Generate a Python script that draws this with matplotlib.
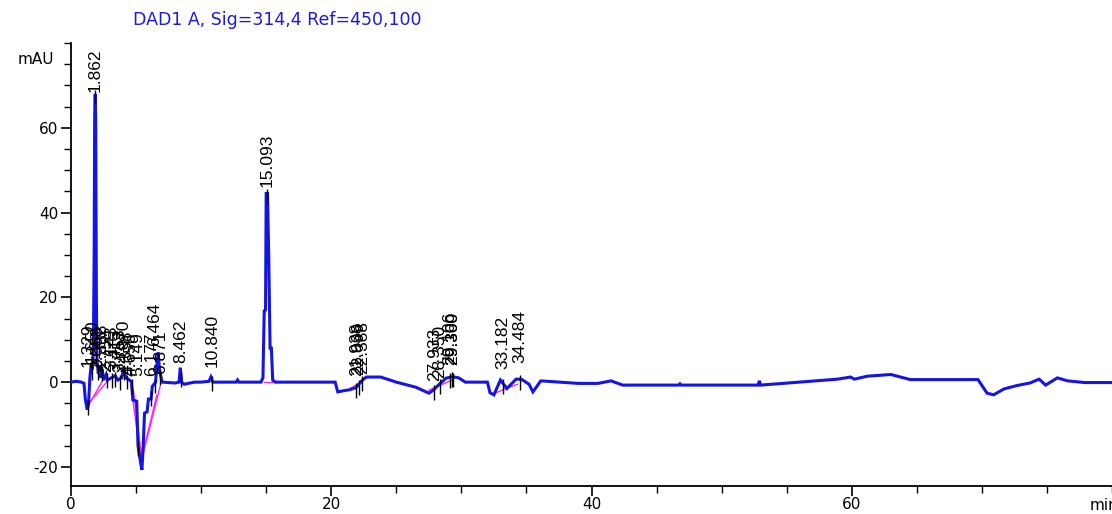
import numpy as np
import matplotlib
matplotlib.use("Agg")
import matplotlib.pyplot as plt
from matplotlib.ticker import MultipleLocator

plt.rcParams["axes.unicode_minus"] = False

# ---- data ----
trace_time = [0.0, 0.4, 0.8, 1.0, 1.1, 1.25, 1.35, 1.45, 1.55, 1.65, 1.72, 1.78, 1.82, 1.862,
              1.9, 1.95, 2.0, 2.1, 2.2, 2.3, 2.4, 2.5, 2.7, 2.8, 3.1, 3.4, 3.6, 3.9, 4.05,
              4.2, 4.5, 4.65, 4.75, 5.05, 5.15, 5.35, 5.45, 5.55, 5.65, 5.85, 5.95, 6.15,
              6.25, 6.5, 6.6, 6.7, 6.8, 7.0, 8.0, 8.3, 8.4, 8.5, 8.7, 9.0, 9.5, 10.0, 10.6,
              10.75, 10.9, 12.7, 12.8, 12.9, 14.6, 14.75, 14.85, 14.95, 15.0, 15.1, 15.2,
              15.3, 15.4, 15.5, 15.7, 20.3, 20.5, 21.0, 21.4, 21.9, 22.4, 22.7, 23.8, 25.0,
              26.5, 27.5, 27.8, 28.3, 28.8, 29.3, 29.8, 30.3, 32.0, 32.2, 32.5, 33.0, 33.5,
              34.2, 34.6, 35.2, 35.5, 35.8, 36.1, 39.0, 40.5, 41.5, 42.4, 46.7, 46.8, 46.9,
              52.8, 52.9, 53.0, 54.7, 57.2, 58.9, 59.9, 60.2, 61.2, 63.0, 64.5, 69.7, 70.4,
              70.9, 71.7, 72.7, 73.7, 74.4, 74.9, 75.8, 76.6, 77.9, 80.0]
trace_mau = [0.0, 0.2, 0.0, -0.3, -4.0, -6.5, -5.0, 1.0, 4.0, 3.0, 8.0, 30.0, 63.0, 68.0,
             62.0, 20.0, 5.0, 2.0, 4.0, 1.0, 3.0, 0.5, 1.8, 0.5, 1.0, 1.5, 0.5, 1.0, 3.3,
             1.0, 0.5, 0.0, -4.2, -4.5, -15.0, -19.0, -20.7, -15.0, -7.3, -7.0, -4.0, -4.0,
             -1.0, 0.0, 4.0, 7.0, 3.0, 0.0, -0.2, 0.0, 3.4, 0.0, -0.5, -0.3, 0.0, 0.0, 0.2,
             1.2, 0.0, 0.0, 0.5, 0.0, 0.0, 1.0, 16.8, 17.0, 44.5, 44.5, 29.0,
             8.0, 8.0, 0.5, 0.0, 0.0, -2.3, -2.0, -1.8, -1.3, 0.5, 1.2, 1.2, 0.0,
             -1.2, -2.6, -2.0, -0.5, 0.9, 1.3, 1.0, 0.0, 0.0, -2.5, -3.0, 0.5, -1.5,
             0.7, 0.7, -0.5, -2.3, -1.0, 0.3, -0.3, -0.3, 0.3, -0.7, -0.7, -0.4, -0.7,
             -0.7, 0.3, -0.7, -0.3, 0.3, 0.7, 1.2, 0.7, 1.4, 1.8, 0.6, 0.6, -2.6,
             -3.0, -1.6, -0.8, -0.2, 0.7, -0.7, 1.0, 0.3, -0.1, -0.1]

# integration baselines (start time, start mAU, end time, end mAU)
base_t0 = [1.25, 1.35, 4.6, 4.8, 5.45, 5.5, 14.8, 21.5, 27.5, 32.4]
base_v0 = [-6.0, -5.0, -0.5, -2.0, -18.0, -17.0, 0.0, -1.4, -1.9, -2.8]
base_t1 = [2.45, 2.8, 5.35, 5.4, 6.85, 6.6, 15.5, 22.3, 29.3, 34.3]
base_v1 = [0.5, 0.2, -18.0, -17.0, -1.0, -3.0, 0.0, 0.0, 0.5, -0.5]

# peak retention-time labels and the mAU level of each label's foot
peak_labels = ["1.329", "1.650", "1.862", "2.068", "2.388", "2.758", "3.143", "3.413",
               "3.753", "4.070", "4.338", "4.656", "5.149", "6.177", "6.464", "6.871",
               "8.462", "10.840", "15.093", "21.938", "22.099", "22.388", "27.933",
               "28.350", "29.106", "29.300", "29.360", "33.182", "34.484"]
peak_times = [1.329, 1.650, 1.862, 2.068, 2.388, 2.758, 3.143, 3.413, 3.753, 4.070, 4.338,
              4.656, 5.149, 6.177, 6.464, 6.871, 8.462, 10.840, 15.093, 21.938, 22.099,
              22.388, 27.933, 28.350, 29.106, 29.300, 29.360, 33.182, 34.484]
label_foot = [3.5, 4.5, 68.5, 3.0, 3.5, 2.5, 3.0, 2.5, 2.5, 4.5, 2.0, 1.5, 1.5, 1.5, 8.5,
              2.0, 4.5, 3.5, 46.0, 1.5, 1.8, 2.0, 0.2, 1.0, 4.0, 4.0, 4.0, 3.0, 4.5]

x_ticks = [0, 20, 40, 60]
y_ticks = [-20, 0, 20, 40, 60]
title = "DAD1 A, Sig=314,4 Ref=450,100"

# ---- figure ----
W, H = 1112, 514
fig = plt.figure(figsize=(W / 100, H / 100), dpi=100)
ax = fig.add_axes([71 / W, 1 - 486 / H, 1 - 71 / W, (486 - 43) / H])
ax.set_xlim(0, 80)
ax.set_ylim(-24.5, 80)

blue = "#1414e6"
ax.plot(trace_time, trace_mau, color=blue, lw=2.2, solid_joinstyle="miter", zorder=3)
for t0, v0, t1, v1 in zip(base_t0, base_v0, base_t1, base_v1):
    ax.plot([t0, t1], [v0, v1], color="#ff20ff", lw=1.0, zorder=2)

tick_y = np.interp(peak_times, trace_time, trace_mau)
ax.vlines(peak_times, tick_y - 2.5, tick_y + 1.0, color="black", lw=1.0, zorder=4)
for lab, t, f in zip(peak_labels, peak_times, label_foot):
    ax.text(t, f, lab, rotation=90, ha="center", va="bottom", fontsize=12.5,
            family="Liberation Sans", color="black", zorder=5)

for s in ["top", "right"]:
    ax.spines[s].set_visible(False)
for s in ["left", "bottom"]:
    ax.spines[s].set_linewidth(1.3)
ax.set_xticks(x_ticks)
ax.set_yticks(y_ticks)
ax.xaxis.set_minor_locator(MultipleLocator(5))
ax.yaxis.set_minor_locator(MultipleLocator(5))
ax.tick_params(which="major", length=7, width=1.2, labelsize=11, pad=2)
ax.tick_params(which="minor", length=5, width=1.0)
ax.tick_params(axis="x", which="major", pad=1)
for lbl in ax.get_xticklabels() + ax.get_yticklabels():
    lbl.set_family("DejaVu Sans")

fig.text(277 / W, 1 - 20 / H, title, ha="center", va="center", fontsize=12.5,
         color="#1a1ae6", family="DejaVu Sans")
fig.text(36 / W, 1 - 60 / H, "mAU", ha="center", va="center", fontsize=11,
         family="DejaVu Sans")
fig.text(1090 / W, 1 - 505 / H, "min", ha="left", va="center", fontsize=11,
         family="DejaVu Sans")

fig.savefig("out.png", dpi=100)
